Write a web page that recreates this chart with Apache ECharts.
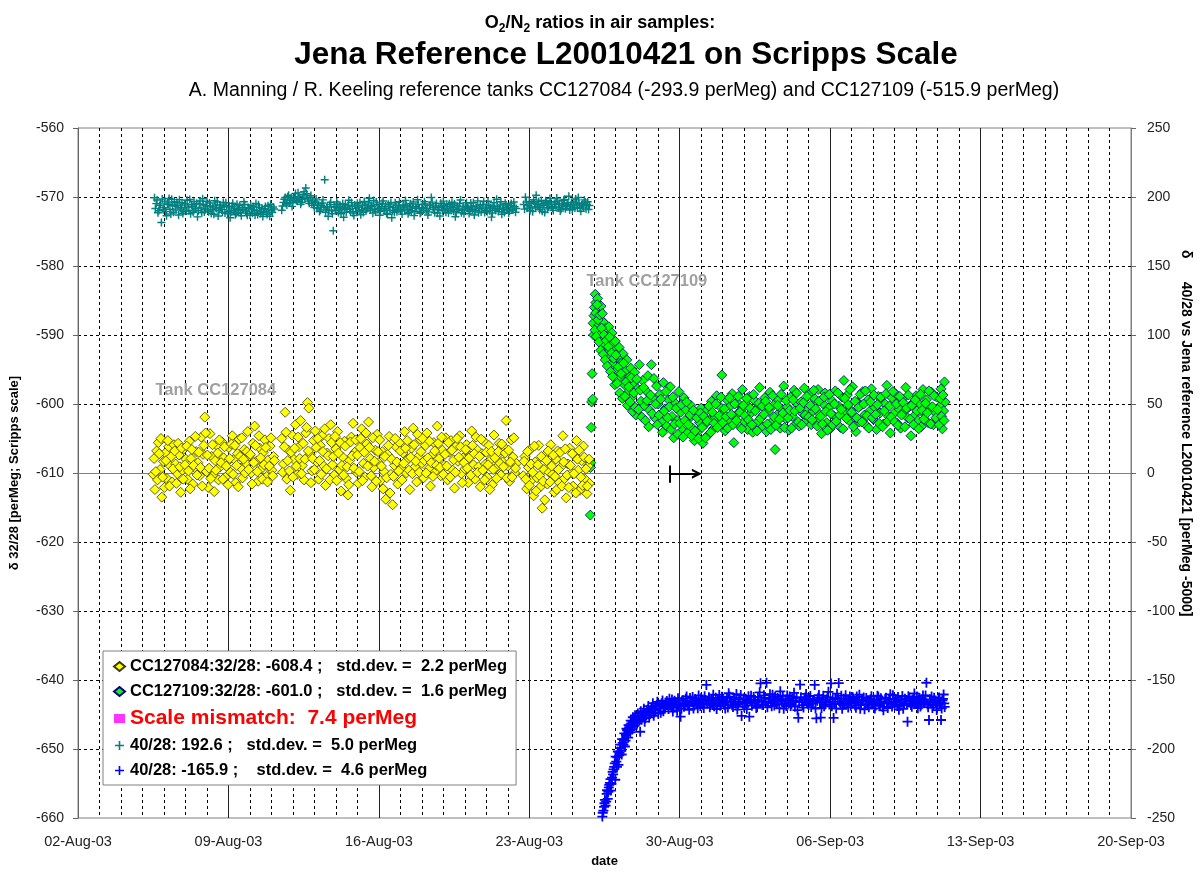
<!DOCTYPE html>
<html>
<head>
<meta charset="utf-8">
<title>O2/N2 ratios in air samples</title>
<script src="https://cdn.jsdelivr.net/npm/echarts@6/dist/echarts.min.js"></script>
<style>
  html, body { margin: 0; padding: 0; background: #fff; }
  #chart { width: 1200px; height: 873px; }
</style>
</head>
<body>
<div id="chart"></div>
<script>
// x = days since 02-Aug-03, y = perMeg
// 32/28 series use the left axis, 40/28 series the right axis
var tickLabelsLeft = [-660, -650, -640, -630, -620, -610, -600, -590, -580, -570, -560];
var tickLabelsRight = [-250, -200, -150, -100, -50, 0, 50, 100, 150, 200, 250];
var monthNames = ['Jan','Feb','Mar','Apr','May','Jun','Jul','Aug','Sep','Oct','Nov','Dec'];

var legendNames = [
  'CC127084:32/28: -608.4 ;   std.dev. =  2.2 perMeg',
  'CC127109:32/28: -601.0 ;   std.dev. =  1.6 perMeg',
  'Scale mismatch:  7.4 perMeg',
  '40/28: 192.6 ;   std.dev. =  5.0 perMeg',
  '40/28: -165.9 ;    std.dev. =  4.6 perMeg'
];

// tank CC127084, 32/28 (left axis)
var tank084_3228 = [
  [3.50,-610.2],[3.58,-612.4],[3.66,-606.8],[3.74,-605.6],[3.82,-609.5],[3.90,-613.5],[3.98,-608.3],
  [4.06,-607.1],[4.14,-610.8],[4.22,-606.2],[4.30,-609.0],[4.38,-611.3],[4.46,-605.9],[4.54,-608.7],[4.62,-610.1],[4.70,-607.4],[4.78,-612.8],[4.86,-609.6],[4.94,-606.5],
  [5.02,-608.0],[5.10,-610.9],[5.18,-605.4],[5.26,-607.9],[5.34,-611.6],[5.42,-609.2],[5.50,-606.9],[5.58,-608.5],[5.66,-610.4],[5.74,-604.8],[5.82,-607.3],[5.90,-601.9],[5.98,-609.8],
  [6.06,-612.1],[6.14,-604.3],[6.22,-607.6],[6.30,-610.3],[6.38,-608.2],[6.46,-606.0],[6.54,-611.0],[6.62,-609.1],[6.70,-605.5],[6.78,-607.8],[6.86,-610.6],[6.94,-608.4],
  [7.02,-606.3],[7.10,-609.9],[7.18,-604.6],[7.26,-608.0],[7.34,-611.4],[7.42,-607.2],[7.50,-605.1],[7.58,-609.3],[7.66,-610.7],[7.74,-606.6],[7.82,-608.6],[7.90,-604.0],[7.98,-607.5],
  [8.06,-610.0],[8.14,-605.7],[8.22,-603.2],[8.30,-608.3],[8.38,-611.2],[8.46,-606.4],[8.54,-609.4],[8.62,-607.0],[8.70,-605.2],[8.78,-610.5],[8.86,-608.1],[8.94,-606.1],[9.02,-609.6],[9.10,-607.6],
  [9.48,-605.0],[9.56,-608.7],[9.64,-601.2],[9.72,-610.9],[9.80,-606.7],[9.88,-612.5],[9.96,-604.5],
  [10.04,-608.0],[10.12,-603.0],[10.20,-610.2],[10.28,-606.2],[10.36,-602.4],[10.44,-608.9],[10.52,-611.0],[10.60,-604.2],[10.68,-599.8],[10.74,-600.6],[10.80,-607.3],[10.88,-609.7],[10.96,-605.3],
  [11.04,-603.9],[11.12,-608.4],[11.20,-610.9],[11.28,-606.0],[11.36,-604.6],[11.44,-609.0],[11.52,-611.8],[11.60,-607.1],[11.68,-605.0],[11.76,-603.0],[11.84,-608.8],[11.92,-610.3],
  [12.00,-606.5],[12.08,-604.0],[12.16,-609.5],[12.24,-612.6],[12.32,-607.7],[12.40,-605.4],[12.48,-610.8],[12.56,-613.2],[12.64,-608.2],[12.72,-604.8],[12.80,-602.8],[12.88,-607.0],[12.96,-609.9],
  [13.04,-611.5],[13.12,-606.3],[13.20,-603.6],[13.28,-608.6],[13.36,-610.6],[13.44,-605.8],[13.52,-602.6],[13.60,-607.9],[13.68,-612.0],[13.76,-609.2],[13.84,-606.7],[13.92,-604.4],
  [14.00,-608.5],[14.08,-611.1],[14.16,-606.9],[14.24,-609.8],[14.32,-613.8],[14.40,-607.3],[14.48,-604.7],[14.56,-610.2],[14.64,-614.6],[14.72,-608.9],[14.80,-606.2],[14.88,-611.6],[14.96,-605.6],
  [15.04,-609.3],[15.12,-607.1],[15.20,-604.0],[15.28,-610.0],[15.36,-608.0],[15.44,-612.4],[15.52,-606.4],[15.60,-603.5],[15.68,-609.1],[15.76,-611.3],[15.84,-607.6],[15.92,-605.1],
  [16.00,-608.6],[16.08,-610.7],[16.16,-606.0],[16.24,-604.2],[16.32,-609.4],[16.40,-611.9],[16.48,-607.4],[16.56,-605.6],[16.64,-609.8],[16.72,-603.2],[16.80,-607.9],[16.88,-610.4],[16.96,-606.7],
  [17.04,-608.9],[17.12,-604.9],[17.20,-611.0],[17.28,-607.0],[17.36,-605.3],[17.44,-609.6],[17.52,-612.2],[17.60,-606.1],[17.68,-608.3],[17.76,-604.6],[17.84,-610.1],[17.92,-607.8],
  [18.00,-609.4],[18.08,-605.9],[18.16,-611.4],[18.24,-607.5],[18.32,-603.9],[18.40,-608.8],[18.48,-610.9],[18.56,-606.6],[18.64,-609.1],[18.72,-612.0],[18.80,-607.2],[18.88,-605.4],[18.96,-608.7],
  [19.04,-610.6],[19.12,-606.0],[19.20,-608.1],[19.28,-611.7],[19.36,-604.5],[19.44,-609.3],[19.52,-607.4],[19.60,-605.7],[19.68,-610.3],[19.76,-608.4],[19.84,-606.3],[19.92,-602.4],
  [20.00,-609.0],[20.08,-611.2],[20.16,-605.2],[20.24,-607.7],[20.32,-610.0],[20.40,-608.6],
  [20.72,-610.4],[20.80,-607.6],[20.88,-612.3],[20.96,-609.2],
  [21.04,-606.6],[21.12,-611.0],[21.20,-613.3],[21.28,-608.4],[21.36,-610.7],[21.44,-606.0],[21.52,-612.0],[21.60,-615.1],[21.68,-609.5],[21.76,-607.3],[21.84,-611.6],[21.92,-609.9],
  [22.00,-605.9],[22.08,-610.2],[22.16,-612.8],[22.24,-608.0],[22.32,-606.8],[22.40,-611.4],[22.48,-609.1],[22.56,-604.6],[22.64,-610.8],[22.72,-613.6],[22.80,-608.7],[22.88,-606.4],[22.96,-610.0],
  [23.04,-611.9],[23.12,-607.5],[23.20,-605.3],[23.28,-609.6],[23.36,-612.5],[23.44,-608.2],[23.52,-606.1],[23.60,-610.9],[23.68,-613.0],[23.74,-609.0],[23.80,-611.5],
  [3.54,-607.9],[3.62,-609.8],[3.70,-611.0],[3.78,-607.2],[3.86,-605.0],[3.94,-610.6],
  [4.02,-612.1],[4.10,-608.2],[4.18,-605.3],[4.26,-611.9],[4.34,-607.6],[4.42,-609.4],[4.50,-606.8],[4.58,-611.5],[4.66,-605.7],[4.74,-609.1],[4.82,-606.4],[4.90,-610.9],[4.98,-608.8],
  [5.06,-606.1],[5.14,-609.7],[5.22,-612.3],[5.30,-606.6],[5.38,-608.9],[5.46,-604.7],[5.54,-610.3],[5.62,-607.0],[5.70,-609.2],[5.78,-611.9],[5.86,-606.0],[5.94,-604.2],
  [6.02,-607.4],[6.10,-609.3],[6.18,-610.8],[6.26,-605.9],[6.34,-612.7],[6.42,-609.6],[6.50,-607.1],[6.58,-605.2],[6.66,-608.5],[6.74,-610.9],[6.82,-606.2],[6.90,-609.0],[6.98,-611.7],
  [7.06,-607.9],[7.14,-605.8],[7.22,-610.2],[7.30,-606.0],[7.38,-608.9],[7.46,-612.0],[7.54,-607.6],[7.62,-604.9],[7.70,-608.0],[7.78,-610.0],[7.86,-606.9],[7.94,-609.5],
  [8.02,-607.3],[8.10,-611.6],[8.18,-608.5],[8.26,-606.0],[8.34,-609.8],[8.42,-604.6],[8.50,-607.8],[8.58,-610.9],[8.66,-608.8],[8.74,-606.3],[8.82,-611.3],[8.90,-609.0],[8.98,-604.9],[9.06,-610.4],[9.14,-608.2],
  [9.52,-609.9],[9.60,-606.2],[9.68,-604.1],[9.76,-608.2],[9.84,-609.7],[9.92,-607.0],
  [10.00,-610.6],[10.08,-606.4],[10.16,-609.0],[10.24,-604.8],[10.32,-607.9],[10.40,-610.1],[10.48,-605.7],[10.56,-608.0],[10.64,-603.4],[10.72,-606.8],[10.84,-611.4],[10.92,-607.9],
  [11.00,-609.5],[11.08,-606.3],[11.16,-605.0],[11.24,-608.2],[11.32,-610.2],[11.40,-606.9],[11.48,-603.6],[11.56,-609.4],[11.64,-607.5],[11.72,-611.0],[11.80,-605.6],[11.88,-607.6],[11.96,-604.7],
  [12.04,-611.1],[12.12,-607.1],[12.20,-605.6],[12.28,-608.9],[12.36,-610.3],[12.44,-606.1],[12.52,-609.1],[12.60,-611.7],[12.68,-605.5],[12.76,-607.5],[12.84,-609.3],[12.92,-605.2],
  [13.00,-607.4],[13.08,-609.8],[13.16,-605.0],[13.24,-611.1],[13.32,-607.0],[13.40,-604.2],[13.48,-609.0],[13.56,-606.3],[13.64,-610.4],[13.72,-604.9],[13.80,-608.3],[13.88,-611.2],[13.96,-606.9],
  [14.04,-605.2],[14.12,-609.0],[14.20,-612.3],[14.28,-607.6],[14.36,-610.7],[14.44,-606.0],[14.52,-612.9],[14.60,-608.0],[14.68,-610.5],[14.76,-605.0],[14.84,-608.4],[14.92,-609.7],
  [15.00,-606.8],[15.08,-611.0],[15.16,-608.6],[15.24,-606.4],[15.32,-605.3],[15.40,-609.6],[15.48,-607.7],[15.56,-610.1],[15.64,-605.9],[15.72,-608.3],[15.80,-604.4],[15.88,-609.9],[15.96,-606.9],
  [16.04,-605.0],[16.12,-608.2],[16.20,-610.0],[16.28,-607.8],[16.36,-605.4],[16.44,-608.5],[16.52,-610.5],[16.60,-606.8],[16.68,-608.9],[16.76,-605.7],[16.84,-609.2],[16.92,-604.8],
  [17.00,-610.2],[17.08,-607.3],[17.16,-609.0],[17.24,-605.6],[17.32,-610.6],[17.40,-606.7],[17.48,-608.1],[17.56,-609.9],[17.64,-605.0],[17.72,-607.7],[17.80,-606.2],[17.88,-611.4],[17.96,-608.5],
  [18.04,-606.6],[18.12,-609.3],[18.20,-607.8],[18.28,-610.3],[18.36,-606.0],[18.44,-607.2],[18.52,-604.8],[18.60,-609.9],[18.68,-607.6],[18.76,-605.1],[18.84,-609.6],[18.92,-611.0],
  [19.00,-607.0],[19.08,-608.8],[19.16,-612.4],[19.24,-606.9],[19.32,-609.5],[19.40,-607.8],[19.48,-610.8],[19.56,-606.9],[19.64,-608.6],[19.72,-605.8],[19.80,-609.1],[19.88,-607.1],[19.96,-610.7],
  [20.04,-606.7],[20.12,-608.4],[20.20,-610.6],[20.28,-604.9],[20.36,-609.3],
  [20.76,-608.3],[20.84,-610.9],[20.92,-606.9],[21.00,-611.8],[21.08,-608.7],[21.16,-609.9],[21.24,-606.1],[21.32,-612.6],[21.40,-608.8],[21.48,-610.4],[21.56,-607.6],[21.64,-611.2],[21.72,-613.9],[21.80,-608.2],[21.88,-606.8],[21.96,-611.3],
  [22.04,-609.0],[22.12,-607.4],[22.20,-610.5],[22.28,-612.4],[22.36,-609.5],[22.44,-607.0],[22.52,-611.9],[22.60,-608.4],[22.68,-606.5],[22.76,-610.3],[22.84,-612.1],[22.92,-608.9],
  [23.00,-607.2],[23.08,-610.1],[23.16,-612.9],[23.24,-608.0],[23.32,-606.7],[23.40,-610.6],[23.48,-611.8],[23.56,-607.7],[23.64,-609.4],[23.70,-611.9],[23.78,-608.0]
];

// tank CC127109, 32/28 (left axis)
var tank109_3228 = [
  [23.84,-616.1],[23.85,-609.2],[23.86,-608.5],[23.88,-603.4],[23.90,-599.7],[23.92,-595.6],[23.95,-599.3],[23.97,-588.3],[23.99,-590.0],
  [24.03,-586.0],[24.07,-584.1],[24.10,-585.3],[24.14,-587.0],[24.18,-584.7],[24.22,-588.6],[24.26,-586.4],[24.30,-589.5],[24.34,-585.8],[24.38,-587.9],[24.42,-590.6],[24.46,-588.2],[24.50,-591.3],[24.55,-589.0],[24.60,-592.4],[24.65,-590.1],[24.70,-588.8],[24.75,-593.0],[24.80,-591.5],[24.85,-589.7],[24.90,-594.2],[24.95,-592.0],
  [25.00,-590.9],[25.06,-595.1],[25.12,-593.3],[25.18,-591.8],[25.24,-596.0],[25.30,-594.0],[25.36,-592.7],[25.42,-597.2],[25.48,-595.2],[25.54,-593.6],[25.60,-598.3],[25.66,-596.1],[25.72,-594.8],[25.78,-599.0],[25.84,-597.0],[25.90,-595.4],[25.96,-601.6],
  [26.04,-597.8],[26.12,-594.3],[26.20,-599.6],[26.28,-596.6],[26.36,-600.3],[26.44,-598.1],[26.52,-595.9],[26.60,-600.9],[26.68,-594.3],[26.76,-599.2],[26.84,-602.0],[26.92,-597.4],
  [27.00,-600.0],[27.08,-598.6],[27.16,-602.6],[27.24,-596.9],[27.32,-600.7],[27.40,-603.2],[27.48,-599.4],[27.56,-597.5],[27.64,-601.8],[27.72,-604.9],[27.80,-599.9],[27.88,-602.4],[27.96,-598.2],
  [28.04,-601.2],[28.12,-603.8],[28.20,-599.1],[28.28,-600.8],[28.36,-604.2],[28.44,-602.1],[28.52,-600.2],[28.60,-603.5],[28.68,-605.3],[28.76,-601.5],[28.84,-604.0],[28.92,-602.7],
  [29.00,-600.6],[29.08,-605.7],[29.16,-603.0],[29.24,-601.0],[29.32,-604.5],[29.40,-602.3],[29.48,-599.6],[29.56,-603.6],[29.64,-601.9],[29.72,-598.8],[29.80,-602.9],[29.88,-600.4],[29.96,-595.8],
  [30.04,-601.4],[30.12,-603.9],[30.20,-599.4],[30.28,-602.2],[30.36,-600.3],[30.44,-598.5],[30.52,-605.6],[30.60,-601.7],[30.68,-599.8],[30.76,-603.1],[30.84,-600.9],[30.92,-597.9],
  [31.00,-602.5],[31.08,-600.0],[31.16,-603.7],[31.24,-598.9],[31.32,-601.3],[31.40,-604.1],[31.48,-599.5],[31.56,-602.8],[31.64,-600.5],[31.72,-597.6],[31.80,-601.9],[31.88,-603.3],[31.96,-599.1],
  [32.04,-604.0],[32.12,-601.1],[32.20,-598.3],[32.28,-602.6],[32.36,-600.2],[32.44,-606.6],[32.52,-601.6],[32.60,-599.3],[32.68,-603.5],[32.76,-600.7],[32.84,-597.4],[32.92,-602.1],
  [33.00,-600.4],[33.08,-603.8],[33.16,-599.0],[33.24,-601.8],[33.32,-598.0],[33.40,-602.9],[33.48,-600.1],[33.56,-603.2],[33.64,-599.7],[33.72,-601.4],[33.80,-597.7],[33.88,-602.3],[33.96,-600.8],
  [34.04,-598.6],[34.12,-603.0],[34.20,-601.0],[34.28,-599.2],[34.36,-602.5],[34.44,-597.9],[34.52,-601.5],[34.60,-604.3],[34.68,-600.0],[34.76,-598.4],[34.84,-602.7],[34.92,-600.6],
  [35.00,-603.6],[35.08,-599.5],[35.16,-601.7],[35.24,-598.1],[35.32,-602.0],[35.40,-600.3],[35.48,-603.4],[35.56,-599.0],[35.64,-596.6],[35.72,-601.2],[35.80,-598.7],[35.88,-602.4],[35.96,-600.9],
  [36.04,-597.5],[36.12,-601.9],[36.20,-604.0],[36.28,-599.8],[36.36,-602.6],[36.44,-600.2],[36.52,-598.2],[36.60,-601.6],[36.68,-603.1],[36.76,-599.4],[36.84,-601.0],[36.92,-597.8],
  [37.00,-602.2],[37.08,-600.5],[37.16,-603.7],[37.24,-598.9],[37.32,-601.3],[37.40,-599.6],[37.48,-602.9],[37.56,-600.0],[37.64,-597.3],[37.72,-601.8],[37.80,-604.2],[37.88,-599.1],[37.96,-601.4],
  [38.04,-598.5],[38.12,-602.8],[38.20,-600.7],[38.28,-603.5],[38.36,-599.3],[38.44,-601.1],[38.52,-597.6],[38.60,-602.0],[38.68,-600.4],[38.76,-604.6],[38.84,-599.9],[38.92,-601.7],
  [39.00,-598.8],[39.08,-602.4],[39.16,-600.1],[39.24,-603.3],[39.32,-597.9],[39.40,-601.5],[39.48,-599.4],[39.56,-602.7],[39.64,-600.6],[39.72,-598.3],[39.80,-603.0],[39.88,-601.2],[39.96,-599.0],
  [40.04,-602.5],[40.10,-600.3],[40.16,-597.8],[40.22,-603.6],[40.28,-601.0],[40.32,-596.8],[40.35,-599.7],
  [24.01,-587.2],[24.05,-589.3],[24.09,-586.8],[24.12,-590.2],[24.16,-585.6],[24.20,-587.8],[24.24,-591.0],[24.28,-587.1],[24.32,-592.2],[24.36,-589.0],[24.40,-586.9],[24.44,-592.8],[24.48,-590.0],[24.53,-593.6],[24.58,-590.8],[24.63,-594.5],[24.68,-591.7],[24.73,-590.3],[24.78,-595.3],[24.83,-592.6],[24.88,-596.0],[24.93,-593.4],[24.98,-597.2],
  [25.03,-592.9],[25.09,-597.0],[25.15,-594.6],[25.21,-598.4],[25.27,-595.6],[25.33,-599.2],[25.39,-594.1],[25.45,-598.9],[25.51,-596.8],[25.57,-600.2],[25.63,-597.5],[25.69,-599.7],[25.75,-596.2],[25.81,-601.1],[25.87,-598.4],[25.93,-600.5],
  [26.00,-596.4],[26.08,-600.8],[26.16,-598.0],[26.24,-601.9],[26.32,-597.6],[26.40,-602.4],[26.48,-599.5],[26.56,-603.3],[26.64,-598.7],[26.72,-601.4],[26.80,-596.3],[26.88,-600.0],[26.96,-603.0],
  [27.04,-601.6],[27.12,-599.3],[27.20,-604.1],[27.28,-601.0],[27.36,-598.2],[27.44,-602.0],[27.52,-600.4],[27.60,-603.7],[27.68,-599.0],[27.76,-602.9],[27.84,-600.6],[27.92,-604.4],
  [28.00,-602.8],[28.08,-600.1],[28.16,-604.8],[28.24,-602.4],[28.32,-599.7],[28.40,-603.0],[28.48,-601.6],[28.56,-604.6],[28.64,-600.9],[28.72,-603.9],[28.80,-602.0],[28.88,-605.0],[28.96,-601.3],
  [29.04,-603.4],[29.12,-601.8],[29.20,-604.9],[29.28,-602.5],[29.36,-600.3],[29.44,-604.1],[29.52,-601.2],[29.60,-602.8],[29.68,-600.0],[29.76,-603.4],[29.84,-601.7],[29.92,-599.0],
  [30.00,-602.7],[30.08,-600.7],[30.16,-601.8],[30.24,-603.5],[30.32,-599.1],[30.40,-601.5],[30.48,-603.0],[30.56,-600.0],[30.64,-602.4],[30.72,-598.9],[30.80,-601.2],[30.88,-603.6],[30.96,-600.2],
  [31.04,-601.7],[31.12,-599.2],[31.20,-602.3],[31.28,-600.6],[31.36,-603.0],[31.44,-598.6],[31.52,-601.0],[31.60,-603.9],[31.68,-599.9],[31.76,-602.1],[31.84,-600.3],[31.92,-601.5],
  [32.00,-599.6],[32.08,-602.9],[32.16,-600.5],[32.24,-603.7],[32.32,-598.8],[32.40,-601.9],[32.48,-603.1],[32.56,-600.2],[32.64,-602.2],[32.72,-598.6],[32.80,-601.3],[32.88,-603.4],[32.96,-599.5],
  [33.04,-602.0],[33.12,-600.9],[33.20,-603.5],[33.28,-599.4],[33.36,-601.0],[33.44,-598.4],[33.52,-602.6],[33.60,-600.6],[33.68,-603.0],[33.76,-599.8],[33.84,-601.6],[33.92,-598.9],
  [34.00,-601.9],[34.08,-600.2],[34.16,-602.3],[34.24,-598.0],[34.32,-600.7],[34.40,-603.2],[34.48,-599.6],[34.56,-601.8],[34.64,-602.9],[34.72,-599.0],[34.80,-601.1],[34.88,-603.8],[34.96,-598.6],
  [35.04,-601.4],[35.12,-603.0],[35.20,-600.0],[35.28,-602.5],[35.36,-598.4],[35.44,-601.6],[35.52,-600.8],[35.60,-603.6],[35.68,-599.2],[35.76,-602.1],[35.84,-600.1],[35.92,-597.9],
  [36.00,-601.2],[36.08,-603.3],[36.16,-599.6],[36.24,-602.0],[36.32,-600.5],[36.40,-598.6],[36.48,-602.6],[36.56,-600.0],[36.64,-598.1],[36.72,-601.7],[36.80,-603.5],[36.88,-599.7],[36.96,-602.0],
  [37.04,-598.7],[37.12,-601.5],[37.20,-600.1],[37.28,-602.8],[37.36,-599.0],[37.44,-603.3],[37.52,-601.0],[37.60,-598.5],[37.68,-602.5],[37.76,-600.3],[37.84,-601.9],[37.92,-598.2],
  [38.00,-602.6],[38.08,-600.0],[38.16,-603.1],[38.24,-598.9],[38.32,-601.6],[38.40,-599.8],[38.48,-603.3],[38.56,-600.6],[38.64,-598.7],[38.72,-602.2],[38.80,-600.2],[38.88,-603.0],[38.96,-599.4],
  [39.04,-601.0],[39.12,-603.6],[39.20,-598.6],[39.28,-600.9],[39.36,-602.2],[39.44,-599.9],[39.52,-601.3],[39.60,-598.1],[39.68,-602.9],[39.76,-600.4],[39.84,-598.8],[39.92,-602.0],
  [40.00,-600.8],[40.07,-603.0],[40.13,-599.2],[40.19,-601.8],[40.25,-598.7],[40.30,-602.4]
];

// tank CC127084, 40/28 (right axis)
var tank084_4028 = [
  [3.56,199.4],[3.64,195.2],[3.72,188.6],[3.80,193.9],[3.88,181.5],[3.96,190.8],
  [4.04,197.0],[4.12,186.4],[4.20,194.6],[4.28,191.1],[4.36,198.3],[4.44,188.9],[4.52,193.5],[4.60,196.2],[4.68,186.9],[4.76,192.4],[4.84,195.8],[4.92,189.7],
  [5.00,194.1],[5.08,197.6],[5.16,190.2],[5.24,187.8],[5.32,193.0],[5.40,196.7],[5.48,191.4],[5.56,185.6],[5.64,194.9],[5.72,192.0],[5.80,198.8],[5.88,189.2],[5.96,193.7],
  [6.04,190.5],[6.12,195.6],[6.20,188.0],[6.28,192.7],[6.36,197.3],[6.44,191.7],[6.52,186.3],[6.60,194.3],[6.68,190.9],[6.76,196.0],[6.84,188.4],[6.92,192.9],
  [7.00,189.6],[7.08,185.0],[7.16,193.3],[7.24,190.3],[7.32,187.2],[7.40,194.8],[7.48,191.0],[7.56,188.7],[7.64,192.2],[7.72,196.5],[7.80,189.9],[7.88,186.7],[7.96,191.8],
  [8.04,194.0],[8.12,188.2],[8.20,190.6],[8.28,195.3],[8.36,187.4],[8.44,192.5],[8.52,189.1],[8.60,185.8],[8.68,191.5],[8.76,188.5],[8.84,193.6],[8.92,186.1],[9.00,190.0],[9.08,192.8],
  [9.48,190.4],[9.56,196.1],[9.64,199.7],[9.72,194.2],[9.80,201.3],[9.88,197.5],[9.96,193.2],
  [10.04,199.0],[10.12,202.6],[10.20,196.9],[10.28,200.4],[10.36,194.7],[10.44,198.2],[10.52,203.8],[10.60,206.5],[10.68,199.3],[10.76,195.4],[10.84,201.0],[10.92,197.2],
  [11.00,192.3],[11.08,198.6],[11.16,195.0],[11.24,189.5],[11.32,193.8],[11.40,197.9],[11.48,212.5],[11.56,191.2],[11.64,186.0],[11.72,194.5],[11.80,190.1],[11.88,175.5],[11.96,192.6],
  [12.04,196.4],[12.12,188.8],[12.20,193.4],[12.28,190.7],[12.36,185.3],[12.44,194.4],[12.52,191.9],[12.60,197.7],[12.68,189.4],[12.76,193.1],[12.84,186.6],[12.92,191.6],
  [13.00,195.5],[13.08,190.0],[13.16,187.1],[13.24,193.6],[13.32,196.8],[13.40,189.8],[13.48,192.1],[13.56,199.1],[13.64,194.0],[13.72,188.3],[13.80,191.3],[13.88,196.3],[13.96,190.8],
  [14.04,186.8],[14.12,193.0],[14.20,197.1],[14.28,191.5],[14.36,188.1],[14.44,194.7],[14.52,190.4],[14.60,184.9],[14.68,192.3],[14.76,195.9],[14.84,189.3],[14.92,193.9],
  [15.00,191.0],[15.08,187.6],[15.16,194.2],[15.24,197.4],[15.32,190.9],[15.40,188.9],[15.48,195.1],[15.56,192.0],[15.64,186.5],[15.72,193.2],[15.80,198.0],[15.88,191.7],[15.96,189.0],
  [16.04,194.5],[16.12,196.6],[16.20,190.2],[16.28,187.0],[16.36,193.8],[16.44,199.6],[16.52,192.4],[16.60,188.6],[16.68,195.2],[16.76,191.1],[16.84,186.2],[16.92,193.3],
  [17.00,197.0],[17.08,190.6],[17.16,194.8],[17.24,188.4],[17.32,192.9],[17.40,196.2],[17.48,189.6],[17.56,185.7],[17.64,193.7],[17.72,191.4],[17.80,197.8],[17.88,190.3],[17.96,187.9],
  [18.04,194.1],[18.12,192.2],[18.20,188.0],[18.28,195.7],[18.36,190.8],[18.44,186.9],[18.52,193.5],[18.60,197.2],[18.68,191.9],[18.76,189.2],[18.84,194.6],[18.92,188.7],
  [19.00,192.7],[19.08,196.9],[19.16,190.1],[19.24,185.4],[19.32,193.1],[19.40,191.6],[19.48,198.4],[19.56,189.5],[19.64,194.3],[19.72,187.5],[19.80,192.0],[19.88,195.4],[19.96,190.5],
  [20.04,188.2],[20.12,193.8],[20.20,191.2],[20.28,196.4],[20.36,189.0],
  [20.74,194.6],[20.82,199.8],[20.90,191.8],
  [21.00,196.7],[21.08,192.8],[21.16,189.4],[21.24,195.5],[21.32,201.2],[21.40,193.4],[21.48,190.7],[21.56,197.5],[21.64,194.0],[21.72,188.8],[21.80,195.9],[21.88,192.5],[21.96,198.9],
  [22.04,193.0],[22.12,190.3],[22.20,196.3],[22.28,199.2],[22.36,192.1],[22.44,189.9],[22.52,195.0],[22.60,197.6],[22.68,191.5],[22.76,194.4],[22.84,200.6],[22.92,193.6],
  [23.00,190.9],[23.08,196.0],[23.16,198.5],[23.24,192.4],[23.32,195.3],[23.40,189.7],[23.48,194.9],[23.56,197.9],[23.64,191.3],[23.72,196.6],[23.80,193.8],
  [3.60,191.6],[3.68,197.8],[3.76,190.0],[3.84,195.0],[3.92,198.6],[4.00,192.2],[4.08,189.5],[4.16,195.7],[4.24,199.0],[4.32,187.7],[4.40,193.9],[4.48,196.5],[4.56,190.5],[4.64,194.0],[4.72,198.0],[4.80,191.3],[4.88,188.0],[4.96,195.1],
  [5.04,189.9],[5.12,192.8],[5.20,198.2],[5.28,194.4],[5.36,189.0],[5.44,191.9],[5.52,195.4],[5.60,190.1],[5.68,197.1],[5.76,188.6],[5.84,194.6],[5.92,191.0],
  [6.00,196.9],[6.08,189.3],[6.16,193.5],[6.24,190.8],[6.32,187.5],[6.40,194.1],[6.48,196.4],[6.56,190.0],[6.64,192.6],[6.72,188.9],[6.80,193.7],[6.88,195.9],[6.96,187.9],
  [7.04,192.9],[7.12,189.0],[7.20,195.5],[7.28,191.9],[7.36,188.1],[7.44,190.4],[7.52,193.8],[7.60,186.4],[7.68,190.8],[7.76,194.6],[7.84,188.3],[7.92,192.4],
  [8.00,187.0],[8.08,191.2],[8.16,193.0],[8.24,186.7],[8.32,190.1],[8.40,194.3],[8.48,188.0],[8.56,191.7],[8.64,189.4],[8.72,193.2],[8.80,187.3],[8.88,190.9],[8.96,194.7],[9.04,188.7],[9.12,191.3],
  [9.52,193.5],[9.60,198.4],[9.68,195.3],[9.76,200.2],[9.84,196.0],[9.92,199.5],[10.00,195.8],[10.08,200.0],[10.16,197.7],[10.24,203.0],[10.32,198.5],[10.40,196.2],[10.48,201.6],[10.56,198.8],[10.64,202.3],[10.72,197.0],[10.80,199.9],[10.88,195.6],[10.96,194.0],
  [11.04,196.3],[11.12,191.8],[11.20,194.1],[11.28,190.6],[11.36,195.6],[11.44,192.5],[11.52,188.9],[11.60,193.0],[11.68,190.4],[11.76,196.2],[11.84,187.8],[11.92,193.1],
  [12.00,190.2],[12.08,194.8],[12.16,191.3],[12.24,187.9],[12.32,195.2],[12.40,192.2],[12.48,189.0],[12.56,193.9],[12.64,191.0],[12.72,196.1],[12.80,188.4],[12.88,194.2],[12.96,189.6],
  [13.04,192.6],[13.12,196.0],[13.20,191.0],[13.28,188.7],[13.36,194.3],[13.44,191.9],[13.52,195.6],[13.60,190.6],[13.68,193.0],[13.76,197.4],[13.84,189.1],[13.92,194.5],
  [14.00,191.6],[14.08,189.6],[14.16,195.4],[14.24,190.3],[14.32,193.4],[14.40,187.4],[14.48,192.9],[14.56,196.0],[14.64,190.0],[14.72,188.8],[14.80,194.1],[14.88,191.1],[14.96,196.6],
  [15.04,189.8],[15.12,192.7],[15.20,190.7],[15.28,194.0],[15.36,187.9],[15.44,193.0],[15.52,190.0],[15.60,196.4],[15.68,189.5],[15.76,191.9],[15.84,194.5],[15.92,188.2],
  [16.00,192.2],[16.08,190.5],[16.16,195.0],[16.24,191.8],[16.32,189.2],[16.40,194.0],[16.48,196.3],[16.56,190.9],[16.64,193.4],[16.72,188.3],[16.80,192.6],[16.88,195.5],[16.96,190.0],
  [17.04,193.6],[17.12,188.9],[17.20,191.5],[17.28,195.1],[17.36,190.2],[17.44,192.4],[17.52,194.9],[17.60,189.1],[17.68,191.0],[17.76,195.3],[17.84,188.6],[17.92,193.0],
  [18.00,190.6],[18.08,195.9],[18.16,191.5],[18.24,189.7],[18.32,193.2],[18.40,196.1],[18.48,190.0],[18.56,192.0],[18.64,188.5],[18.72,194.2],[18.80,191.4],[18.88,196.8],[18.96,190.4],
  [19.04,189.4],[19.12,194.0],[19.20,192.1],[19.28,188.4],[19.36,195.8],[19.44,190.3],[19.52,193.3],[19.60,191.3],[19.68,196.5],[19.76,190.9],[19.84,188.8],[19.92,194.2],
  [20.00,192.5],[20.08,189.8],[20.16,195.3],[20.24,190.6],[20.32,193.0],[20.40,191.7],
  [20.78,191.2],[20.86,196.3],[20.94,193.9],[21.04,190.1],[21.12,195.7],[21.20,198.0],[21.28,192.0],[21.36,194.7],[21.44,196.8],[21.52,192.6],[21.60,189.6],[21.68,195.1],[21.76,197.3],[21.84,191.4],[21.92,194.6],
  [22.00,196.5],[22.08,191.9],[22.16,194.8],[22.24,192.7],[22.32,197.0],[22.40,195.3],[22.48,191.1],[22.56,193.8],[22.64,198.3],[22.72,192.9],[22.80,195.6],[22.88,190.6],[22.96,196.1],
  [23.04,194.2],[23.12,192.0],[23.20,195.8],[23.28,199.7],[23.36,191.9],[23.44,194.1],[23.52,192.8],[23.60,196.4],[23.68,194.5],[23.76,191.0]
];

// tank CC127109, 40/28 (right axis)
var tank109_4028 = [
  [24.40,-249.0],[24.45,-244.6],[24.50,-239.3],[24.55,-241.0],[24.60,-232.5],[24.65,-236.2],[24.70,-227.8],[24.75,-224.6],[24.80,-230.1],[24.85,-220.7],[24.90,-218.4],[24.95,-213.0],
  [25.00,-222.3],[25.05,-209.2],[25.10,-206.0],[25.15,-211.5],[25.20,-202.7],[25.25,-199.4],[25.30,-204.0],[25.35,-195.6],[25.40,-193.1],[25.45,-198.2],[25.50,-189.9],[25.55,-186.4],[25.60,-191.8],[25.65,-184.2],[25.70,-188.0],[25.75,-181.5],[25.80,-185.6],[25.85,-179.9],[25.90,-183.2],[25.95,-177.8],
  [26.02,-181.6],[26.09,-176.0],[26.16,-187.5],[26.23,-178.7],[26.30,-173.9],[26.37,-180.2],[26.44,-175.4],[26.51,-171.3],[26.58,-177.1],[26.65,-173.0],[26.72,-169.6],[26.79,-175.9],[26.86,-171.8],[26.93,-168.2],
  [27.00,-174.4],[27.08,-170.5],[27.16,-166.9],[27.24,-172.7],[27.32,-168.9],[27.40,-165.3],[27.48,-171.1],[27.56,-167.4],[27.64,-164.2],[27.72,-170.0],[27.80,-166.2],[27.88,-172.3],[27.96,-168.0],
  [28.04,-176.6],[28.12,-165.0],[28.20,-169.3],[28.28,-163.5],[28.36,-167.7],[28.44,-171.6],[28.52,-165.8],[28.60,-162.4],[28.68,-168.5],[28.76,-164.6],[28.84,-170.4],[28.92,-166.6],
  [29.00,-163.1],[29.08,-167.9],[29.16,-161.8],[29.24,-153.6],[29.32,-165.4],[29.40,-169.8],[29.48,-163.9],[29.56,-160.7],[29.64,-166.4],[29.72,-171.0],[29.80,-164.8],[29.88,-168.7],[29.96,-162.2],
  [30.04,-166.0],[30.12,-170.6],[30.20,-163.3],[30.28,-159.6],[30.36,-165.6],[30.44,-168.3],[30.52,-162.8],[30.60,-167.2],[30.68,-171.4],[30.76,-164.1],[30.84,-160.9],[30.92,-166.8],
  [31.00,-169.4],[31.08,-163.6],[31.16,-165.9],[31.24,-176.6],[31.32,-161.5],[31.40,-167.0],[31.48,-164.4],[31.56,-170.2],[31.64,-162.6],[31.72,-158.9],[31.80,-165.2],[31.88,-168.1],[31.96,-163.0],
  [32.04,-152.0],[32.12,-166.5],[32.20,-160.3],[32.28,-169.0],[32.36,-164.9],[32.44,-162.0],[32.52,-167.6],[32.60,-163.8],[32.68,-158.2],[32.76,-165.7],[32.84,-170.8],[32.92,-164.3],
  [33.00,-161.2],[33.08,-166.7],[33.16,-168.8],[33.24,-163.4],[33.32,-159.3],[33.40,-165.1],[33.48,-171.9],[33.56,-166.1],[33.64,-162.5],[33.72,-168.2],[33.80,-164.0],[33.88,-160.1],[33.96,-167.3],
  [34.04,-163.7],[34.12,-169.6],[34.20,-165.5],[34.28,-153.6],[34.36,-177.8],[34.44,-162.9],[34.52,-166.3],[34.60,-170.3],[34.68,-161.4],[34.76,-167.8],[34.84,-164.2],[34.92,-158.6],
  [35.00,-165.8],[35.08,-169.1],[35.16,-177.5],[35.24,-163.2],[35.32,-159.9],[35.40,-152.2],[35.48,-166.9],[35.56,-170.9],[35.64,-163.5],[35.72,-161.0],[35.80,-167.1],[35.88,-164.7],[35.96,-168.6],
  [36.04,-162.3],[36.12,-166.0],[36.20,-170.1],[36.28,-164.5],[36.36,-160.6],[36.44,-167.5],[36.52,-165.3],[36.60,-171.2],[36.68,-163.0],[36.76,-168.0],[36.84,-165.0],[36.92,-161.7],
  [37.00,-167.4],[37.08,-170.7],[37.16,-164.8],[37.24,-162.1],[37.32,-168.4],[37.40,-166.2],[37.48,-172.0],[37.56,-163.6],[37.64,-167.0],[37.72,-165.6],[37.80,-160.4],[37.88,-169.2],[37.96,-166.4],
  [38.04,-163.9],[38.12,-168.9],[38.20,-171.5],[38.28,-164.6],[38.36,-161.6],[38.44,-167.6],[38.52,-165.1],[38.60,-180.2],[38.68,-162.7],[38.76,-168.1],[38.84,-164.3],[38.92,-159.8],
  [39.00,-166.6],[39.08,-170.4],[39.16,-163.1],[39.24,-167.9],[39.32,-161.3],[39.40,-165.4],[39.48,-152.0],[39.56,-169.7],[39.64,-164.0],[39.72,-161.9],[39.80,-168.3],[39.88,-165.2],[39.96,-171.8],
  [40.04,-163.4],[40.10,-167.2],[40.16,-179.0],[40.22,-164.8],[40.28,-160.5],[40.33,-169.5],
  [24.42,-246.2],[24.48,-242.0],[24.52,-236.8],[24.58,-238.1],[24.62,-229.9],[24.68,-231.0],[24.72,-226.0],[24.78,-221.9],[24.82,-225.3],[24.88,-216.6],[24.92,-214.8],[24.98,-210.4],
  [25.02,-205.5],[25.08,-212.9],[25.12,-201.8],[25.18,-204.6],[25.22,-196.9],[25.28,-201.3],[25.32,-192.8],[25.38,-197.0],[25.42,-188.7],[25.48,-193.9],[25.52,-185.2],[25.58,-188.9],[25.62,-182.7],[25.68,-186.6],[25.72,-179.4],[25.78,-183.9],[25.82,-177.0],[25.88,-181.0],[25.92,-175.6],[25.98,-180.4],
  [26.05,-174.3],[26.12,-179.1],[26.19,-172.6],[26.26,-176.8],[26.33,-170.8],[26.40,-177.7],[26.47,-172.9],[26.54,-168.9],[26.61,-174.6],[26.68,-170.4],[26.75,-166.8],[26.82,-173.5],[26.89,-169.0],[26.96,-165.8],
  [27.04,-168.4],[27.12,-173.8],[27.20,-164.9],[27.28,-170.2],[27.36,-166.4],[27.44,-168.0],[27.52,-163.6],[27.60,-169.4],[27.68,-172.9],[27.76,-165.1],[27.84,-168.8],[27.92,-163.2],
  [28.00,-167.0],[28.08,-170.9],[28.16,-164.7],[28.24,-166.9],[28.32,-161.9],[28.40,-168.2],[28.48,-163.0],[28.56,-166.0],[28.64,-170.7],[28.72,-163.8],[28.80,-167.3],[28.88,-161.2],[28.96,-168.9],
  [29.04,-165.6],[29.12,-170.2],[29.20,-164.5],[29.28,-167.1],[29.36,-162.5],[29.44,-168.2],[29.52,-165.0],[29.60,-169.0],[29.68,-162.9],[29.76,-166.7],[29.84,-160.8],[29.92,-167.5],
  [30.00,-163.9],[30.08,-168.0],[30.16,-165.3],[30.24,-170.0],[30.32,-162.0],[30.40,-166.3],[30.48,-169.6],[30.56,-164.0],[30.64,-160.2],[30.72,-167.7],[30.80,-165.8],[30.88,-176.0],[30.96,-163.4],
  [31.04,-166.6],[31.12,-171.1],[31.20,-161.8],[31.28,-165.0],[31.36,-168.6],[31.44,-162.3],[31.52,-166.1],[31.60,-169.5],[31.68,-164.6],[31.76,-152.4],[31.84,-167.9],[31.92,-161.1],
  [32.00,-165.9],[32.08,-169.8],[32.16,-163.7],[32.24,-166.2],[32.32,-160.7],[32.40,-168.5],[32.48,-165.2],[32.56,-162.8],[32.64,-170.4],[32.72,-164.4],[32.80,-161.6],[32.88,-167.0],[32.96,-168.9],
  [33.04,-164.1],[33.12,-162.0],[33.20,-167.6],[33.28,-165.4],[33.36,-169.3],[33.44,-163.0],[33.52,-177.4],[33.60,-153.4],[33.68,-165.8],[33.76,-170.0],[33.84,-162.7],[33.92,-166.5],
  [34.00,-168.2],[34.08,-161.6],[34.16,-166.9],[34.24,-164.3],[34.32,-170.7],[34.40,-165.0],[34.48,-160.9],[34.56,-177.2],[34.64,-163.9],[34.72,-169.0],[34.80,-166.0],[34.88,-162.4],[34.96,-167.7],
  [35.04,-152.5],[35.12,-164.0],[35.20,-167.5],[35.28,-170.6],[35.36,-163.3],[35.44,-165.7],[35.52,-161.5],[35.60,-168.0],[35.68,-166.6],[35.76,-164.9],[35.84,-169.9],[35.92,-162.0],
  [36.00,-166.7],[36.08,-163.4],[36.16,-168.4],[36.24,-161.9],[36.32,-166.1],[36.40,-170.8],[36.48,-164.2],[36.56,-162.6],[36.64,-167.9],[36.72,-165.5],[36.80,-169.7],[36.88,-163.9],[36.96,-166.3],
  [37.04,-164.4],[37.12,-168.6],[37.20,-161.4],[37.28,-166.8],[37.36,-163.2],[37.44,-169.5],[37.52,-165.9],[37.60,-162.8],[37.68,-170.3],[37.76,-164.0],[37.84,-167.2],[37.92,-161.0],
  [38.00,-167.8],[38.08,-165.6],[38.16,-162.4],[38.24,-168.7],[38.32,-166.4],[38.40,-170.9],[38.48,-163.5],[38.56,-167.0],[38.64,-161.8],[38.72,-165.7],[38.80,-169.3],[38.88,-163.2],[38.96,-167.4],
  [39.04,-162.0],[39.12,-165.9],[39.20,-169.2],[39.28,-164.1],[39.36,-166.9],[39.44,-161.2],[39.52,-167.6],[39.60,-179.0],[39.68,-166.1],[39.76,-170.2],[39.84,-162.9],[39.92,-166.0],
  [40.00,-168.6],[40.07,-162.6],[40.13,-166.5],[40.19,-170.6],[40.25,-163.7],[40.31,-167.0]
];

// text labels and the little "|-->" marker, in data coordinates (left axis)
var tankLabels = [[3.58, -598.1, 'Tank CC127084'], [23.64, -582.2, 'Tank CC127109']];
var markerBar = [27.55, -608.9, -611.4];
var markerArrow = [27.55, 28.8, -610.1];

var font = '"Liberation Sans", Arial, sans-serif';
var plus = 'path://M4.1,0H5.9V4.1H10V5.9H5.9V10H4.1V5.9H0V4.1H4.1Z';
var chevron = 'path://M0,10L5,0L10,10L7.6,10L5,4.6L2.4,10Z';

function dayLabel(v) {
  var d = new Date(Date.UTC(2003, 7, 2) + Math.round(v) * 86400000);
  var dd = d.getUTCDate();
  return (dd < 10 ? '0' + dd : dd) + '-' + monthNames[d.getUTCMonth()] + '-' + String(d.getUTCFullYear()).slice(2);
}

var myChart = echarts.init(document.getElementById('chart'), null, { renderer: 'canvas' });

var option = {
  animation: false,
  backgroundColor: '#fff',
  textStyle: { fontFamily: font },
  title: [
    {
      left: 'center', top: 6,
      text: '{a|O}{s|2}{a|/N}{s|2}{a| ratios in air samples:}',
      textStyle: {
        rich: {
          a: { fontSize: 18, fontWeight: 'bold', color: '#000', fontFamily: font, lineHeight: 24 },
          s: { fontSize: 12, fontWeight: 'bold', color: '#000', fontFamily: font, lineHeight: 12, verticalAlign: 'bottom' }
        }
      }
    },
    {
      left: 621, top: 34, textAlign: 'center',
      text: 'Jena Reference L20010421 on Scripps Scale',
      textStyle: { fontSize: 31.5, fontWeight: 'bold', color: '#000', fontFamily: font }
    },
    {
      left: 619, top: 76, textAlign: 'center',
      text: 'A. Manning / R. Keeling reference tanks CC127084 (-293.9 perMeg) and CC127109 (-515.9 perMeg)',
      textStyle: { fontSize: 19.5, fontWeight: 'normal', color: '#000', fontFamily: font }
    }
  ],
  grid: {
    left: 78, right: 69, top: 128, bottom: 55,
    show: true, borderColor: '#808080', borderWidth: 1, backgroundColor: '#fff',
    outerBoundsMode: 'none'
  },
  legend: {
    orient: 'vertical',
    left: 103, top: 651,
    backgroundColor: '#fff',
    borderColor: '#808080', borderWidth: 1,
    padding: [7, 9, 6, 10],
    itemGap: 8,
    itemWidth: 11, itemHeight: 9,
    selectedMode: false,
    textStyle: { fontSize: 16.5, fontWeight: 'bold', color: '#000', fontFamily: font },
    data: [
      { name: legendNames[0], icon: 'diamond' },
      { name: legendNames[1], icon: 'diamond' },
      { name: legendNames[2], icon: 'rect', itemStyle: { color: '#ff00ff' },
        textStyle: { fontSize: 21, fontWeight: 'bold', color: '#ff0000' } },
      { name: legendNames[3], icon: plus },
      { name: legendNames[4], icon: plus }
    ]
  },
  xAxis: {
    type: 'value',
    min: 0, max: 49, interval: 7,
    name: 'date',
    nameLocation: 'middle',
    nameGap: 37,
    nameTextStyle: { fontSize: 13, fontWeight: 'bold', color: '#000' },
    axisLine: { show: true, lineStyle: { color: '#808080' } },
    axisTick: { show: false },
    axisLabel: { formatter: dayLabel, fontSize: 14.5, color: '#222', margin: 16, showMinLabel: true, showMaxLabel: true },
    splitLine: { show: true, showMinLine: false, showMaxLine: false, lineStyle: { color: '#222', width: 1 } },
    minorTick: { show: false, splitNumber: 7 },
    minorSplitLine: { show: true, lineStyle: { color: '#000', type: [3, 3], width: 1 } }
  },
  yAxis: [
    {
      type: 'value',
      min: tickLabelsLeft[0], max: tickLabelsLeft[tickLabelsLeft.length - 1], interval: 10,
      name: 'δ 32/28 [perMeg; Scripps scale]',
      nameLocation: 'middle', nameRotate: 90, nameGap: 57,
      nameTextStyle: { fontSize: 13, fontWeight: 'bold', color: '#000' },
      axisLine: { show: true, lineStyle: { color: '#666' } },
      axisTick: { show: true, inside: false, length: 5, lineStyle: { color: '#666' } },
      axisLabel: { fontSize: 14, color: '#222', margin: 14 },
      splitLine: { show: true, showMinLine: false, showMaxLine: false, lineStyle: { color: '#000', type: [3, 3], width: 1 } }
    },
    {
      type: 'value',
      min: tickLabelsRight[0], max: tickLabelsRight[tickLabelsRight.length - 1], interval: 50,
      position: 'right',
      axisLine: { show: true, lineStyle: { color: '#808080' } },
      axisTick: { show: true, inside: false, length: 5, lineStyle: { color: '#666' } },
      axisLabel: { fontSize: 14, color: '#222', margin: 16 },
      splitLine: { show: false }
    }
  ],
  graphic: [
    {
      type: 'text',
      x: 1186, y: 250,
      rotation: -Math.PI / 2,
      style: {
        text: 'δ      40/28 vs Jena reference L20010421 [perMeg -5000]',
        font: 'bold 14px ' + font,
        fill: '#000',
        align: 'left', verticalAlign: 'middle',
        textAlign: 'left', textVerticalAlign: 'middle'
      }
    }
  ],
  series: [
    {
      name: legendNames[1],
      type: 'scatter',
      yAxisIndex: 0,
      data: tank109_3228,
      symbol: 'diamond',
      symbolSize: 10,
      itemStyle: { color: '#00ff00', borderColor: '#000080', borderWidth: 0.8, opacity: 1 },
      silent: true,
      markPoint: {
        symbol: 'rect', symbolSize: 1,
        itemStyle: { color: 'rgba(0,0,0,0)' },
        label: { show: true, position: 'right', distance: 0, fontSize: 16.5, fontWeight: 'bold', color: '#a0a0a0', fontFamily: font, formatter: '{b}' },
        data: [{ name: tankLabels[1][2], coord: [tankLabels[1][0], tankLabels[1][1]] }]
      },
      markLine: {
        silent: true,
        animation: false,
        label: { show: false },
        lineStyle: { color: '#000', width: 2, type: 'solid' },
        symbolSize: 10,
        data: [
          [{ coord: [markerBar[0], markerBar[1]], symbol: 'none' }, { coord: [markerBar[0], markerBar[2]], symbol: 'none' }],
          [{ coord: [markerArrow[0], markerArrow[2]], symbol: 'none' }, { coord: [markerArrow[1], markerArrow[2]], symbol: chevron }]
        ]
      }
    },
    {
      name: legendNames[0],
      type: 'scatter',
      yAxisIndex: 0,
      data: tank084_3228,
      symbol: 'diamond',
      symbolSize: 10,
      itemStyle: { color: '#ffff00', borderColor: '#3a3a00', borderWidth: 0.8, opacity: 1 },
      silent: true,
      markPoint: {
        symbol: 'rect', symbolSize: 1,
        itemStyle: { color: 'rgba(0,0,0,0)' },
        label: { show: true, position: 'right', distance: 0, fontSize: 16.5, fontWeight: 'bold', color: '#a0a0a0', fontFamily: font, formatter: '{b}' },
        data: [{ name: tankLabels[0][2], coord: [tankLabels[0][0], tankLabels[0][1]] }]
      }
    },
    {
      name: legendNames[2],
      type: 'scatter',
      data: [],
      symbol: 'rect',
      itemStyle: { color: '#ff00ff' }
    },
    {
      name: legendNames[3],
      type: 'scatter',
      yAxisIndex: 1,
      data: tank084_4028,
      symbol: plus,
      symbolSize: 8,
      itemStyle: { color: '#008080', opacity: 1 },
      silent: true
    },
    {
      name: legendNames[4],
      type: 'scatter',
      yAxisIndex: 1,
      data: tank109_4028,
      symbol: plus,
      symbolSize: 10,
      itemStyle: { color: '#0000ff', opacity: 1 },
      silent: true
    }
  ]
};

option && myChart.setOption(option);
</script>
</body>
</html>
